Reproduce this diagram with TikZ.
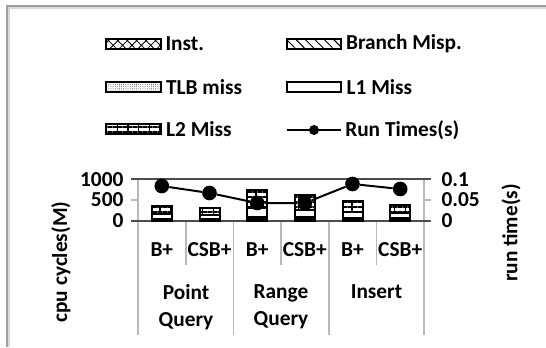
\documentclass[tikz,border=0pt]{standalone}
\usepackage{fontspec}
\setmainfont{Carlito}
\usetikzlibrary{patterns.meta}

% one stacked bar: centre, Inst., Branch, TLB, L1, L2 (in M cycles)
\newcommand{\stackbar}[6]{%
  \pgfmathsetmacro{\ya}{221-#2*0.042}
  \pgfmathsetmacro{\yb}{\ya-#3*0.042}
  \pgfmathsetmacro{\yc}{\yb-#4*0.042}
  \pgfmathsetmacro{\yd}{\yc-#5*0.042}
  \pgfmathsetmacro{\ye}{\yd-#6*0.042}
  \path[ltwo] (#1-10,\yd) rectangle (#1+10,\ye);
  \path[lone] (#1-10,\yc) rectangle (#1+10,\yd);
  \path[tlb] (#1-10,\yb) rectangle (#1+10,\yc);
  \path[branch] (#1-10,\ya) rectangle (#1+10,\yb);
  \path[inst] (#1-10,221) rectangle (#1+10,\ya);
}

\begin{document}
\begin{tikzpicture}[x=0.75pt, y=-0.75pt,
  every node/.style={font=\fontsize{16}{20}\selectfont\bfseries, inner sep=1pt},
  frame/.style={draw=black, line width=1.5pt},
  inst/.style={frame, pattern={Hatch[angle=45,distance=5pt,line width=0.6pt]}},
  branch/.style={frame, pattern={Lines[angle=-45,distance=5pt,line width=0.7pt]}},
  tlb/.style={frame, pattern={Dots[distance=1.6pt,radius=0.3pt]}},
  lone/.style={frame, fill=white},
  ltwo/.style={frame, fill=white, postaction={pattern={Lines[angle=90,distance=8pt,line width=0.8pt]}},
    postaction={pattern={Lines[angle=0,distance=3.75pt,line width=0.8pt]}}},
  swatch/.style={minimum width=41pt, minimum height=7.5pt, inner sep=0pt},
  gridline/.style={draw=gray!55, line width=0.8pt},
  rundot/.style={circle, fill=black, inner sep=0pt, minimum size=11pt},
  runline/.style={draw=black, line width=1.5pt}]

\useasboundingbox (0,0) rectangle (546,347);

% page frame
\draw[gray!75, line width=1.4pt] (7,347) -- (7,6) -- (546,6);
\draw[gray!30, line width=0.8pt] (9,347) -- (9,8) -- (546,8);

% legend
\node[inst, swatch] (swinst) at (133.5,44) {};
\node[anchor=west] (lbinst) at ([xshift=2pt]swinst.east) {Inst.};
\node[branch, swatch] (swbr) at (314,44) {};
\node[anchor=west] (lbbr) at ([xshift=2pt]swbr.east) {Branch Misp.};
\node[tlb, swatch] (swtlb) at (133.5,87) {};
\node[anchor=west] (lbtlb) at ([xshift=2pt]swtlb.east) {TLB miss};
\node[lone, swatch] (swlone) at (314,87) {};
\node[anchor=west] (lblone) at ([xshift=2pt]swlone.east) {L1 Miss};
\node[ltwo, swatch] (swltwo) at (133.5,129) {};
\node[anchor=west] (lbltwo) at ([xshift=2pt]swltwo.east) {L2 Miss};
\coordinate (rl1) at (287,130);
\coordinate (rl2) at (341,130);
\draw[runline] (rl1) -- (rl2);
\node[rundot, minimum size=7.5pt] (rldot) at (314,130) {};
\node[anchor=west] (lbrun) at ([xshift=2pt]rl2) {Run Times(s)};

% axes and category lines
\draw[gridline] (138,179) -- (138,335);
\draw[gridline] (424,179) -- (424,335);
\draw[gridline] (233.5,221) -- (233.5,335);
\draw[gridline] (329,221) -- (329,335);
\foreach \x in {186,281,376.5}
  \draw[gridline] (\x,221) -- (\x,265);
\draw[gridline] (131,200) -- (138,200);
\draw[gridline] (424,200) -- (431,200);
\draw[draw=black!70, line width=1pt] (131,179) -- (431,179);
\draw[draw=black!70, line width=1pt] (131,221) -- (431,221);

\node[anchor=east] (l1000) at (125,180) {1000};
\node[anchor=east] (l500) at (125,200) {500};
\node[anchor=east] (l0) at (125,221) {0};
\node[anchor=west] (r01) at (440,180) {0.1};
\node[anchor=west] (r005) at (440,200) {0.05};
\node[anchor=west] (r0) at (440,221) {0};
\node[rotate=90] (ylab) at (61,262) {cpu cycles(M)};
\node[rotate=90] (y2lab) at (511,233) {run time(s)};

% bars
\stackbar{161.8}{30}{10}{15}{110}{185}
\stackbar{209.5}{30}{10}{15}{90}{155}
\stackbar{257.2}{50}{15}{30}{215}{420}
\stackbar{304.8}{45}{15}{30}{180}{350}
\stackbar{352.5}{40}{15}{20}{150}{245}
\stackbar{400.2}{35}{10}{15}{120}{200}

% run times
\node[rundot] (rt1) at (161.8,186) {};
\node[rundot] (rt2) at (209.5,193) {};
\node[rundot] (rt3) at (257.2,203) {};
\node[rundot] (rt4) at (304.8,203) {};
\node[rundot] (rt5) at (352.5,184) {};
\node[rundot] (rt6) at (400.2,189) {};
\draw[runline] (rt1) -- (rt2) -- (rt3) -- (rt4) -- (rt5) -- (rt6);

% category labels
\node (c1) at (161.8,250) {B+};
\node (c2) at (209.5,250) {CSB+};
\node (c3) at (257.2,250) {B+};
\node (c4) at (304.8,250) {CSB+};
\node (c5) at (352.5,250) {B+};
\node (c6) at (400.2,250) {CSB+};
\node[align=center, anchor=north] (g1) at (186,283) {Point\\Query};
\node[align=center, anchor=north] (g2) at (281,283) {Range\\Query};
\node[anchor=north] (g3) at (376.5,283) {Insert};
\end{tikzpicture}
\end{document}
